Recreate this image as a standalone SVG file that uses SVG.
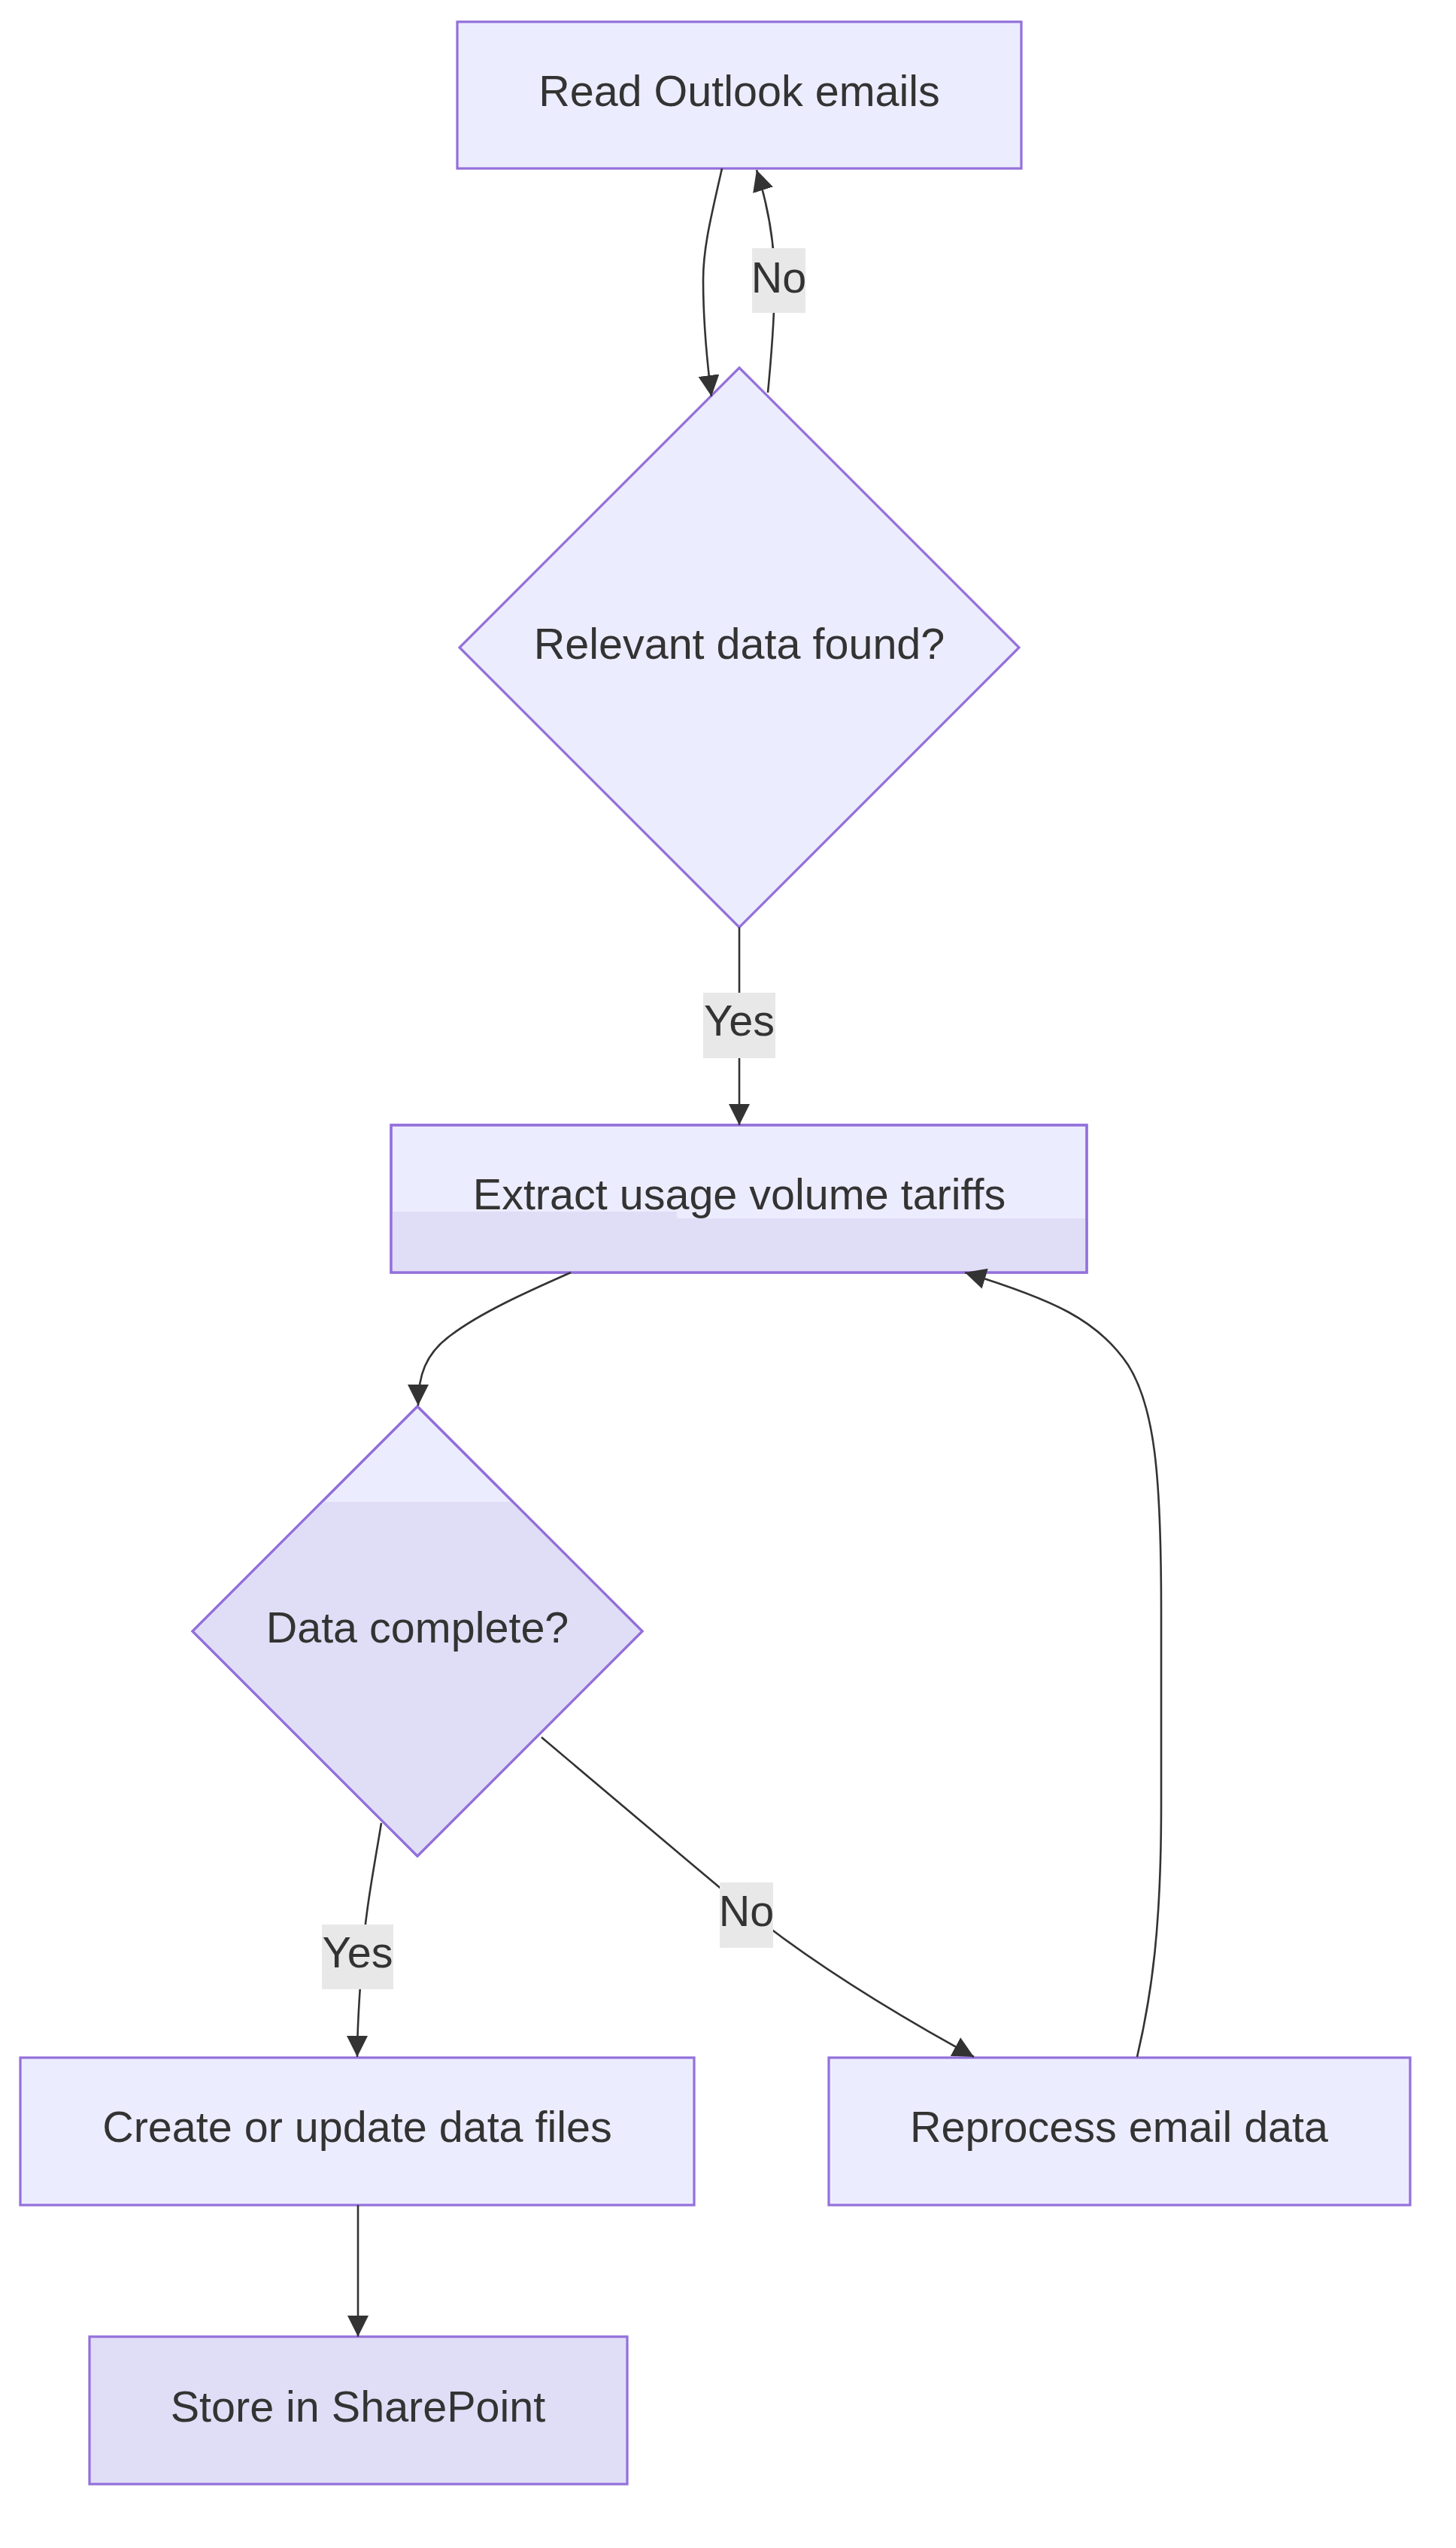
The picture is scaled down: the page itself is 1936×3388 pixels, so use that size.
<svg xmlns="http://www.w3.org/2000/svg" width="1936" height="3388" viewBox="0 0 1936 3388">
<style>
.node{fill:#ECECFF;stroke:#9370DB;stroke-width:3.2}
.outline{fill:none;stroke:#9370DB;stroke-width:3.2}
.dark{fill:#E0DEF6;stroke:none}
.t{font-family:"Liberation Sans",Arial,sans-serif;font-size:57.5px;fill:#333333;text-anchor:middle}
.edge{fill:none;stroke:#333333;stroke-width:2.6}
.lbl{fill:#E8E8E8}
</style>
<defs>
<marker id="arrow" viewBox="0 0 10 10" refX="10" refY="5" markerUnits="userSpaceOnUse" markerWidth="28" markerHeight="28" orient="auto">
<path d="M0,0 L10,5 L0,10 z" fill="#333333"/>
</marker>
</defs>
<rect width="1936" height="3388" fill="#FFFFFF"/>
<g id="nodes">
<g id="readOutlook">
<rect class="node" x="608" y="29" width="750" height="195"/>
<text class="t" x="983" y="141">Read Outlook emails</text>
</g>
<g id="relevantData">
<polygon class="node" points="983,489 1355,861 983,1233 611,861"/>
<text class="t" x="983" y="876">Relevant data found?</text>
</g>
<g id="extractTariffs">
<rect class="node" x="520" y="1496" width="925" height="196"/>
<polygon class="dark" points="521.6,1611 900,1611 900,1620 1443.4,1620 1443.4,1690.4 521.6,1690.4"/>
<rect class="outline" x="520" y="1496" width="925" height="196"/>
<text class="t" x="983" y="1608">Extract usage volume tariffs</text>
</g>
<g id="dataComplete">
<polygon class="node" points="555,1870 854,2169 555,2468 256,2169"/>
<polygon class="dark" points="428,1997 682,1997 854,2169 555,2468 256,2169"/>
<polygon class="outline" points="555,1870 854,2169 555,2468 256,2169"/>
<text class="t" x="555" y="2184">Data complete?</text>
</g>
<g id="createFiles">
<rect class="node" x="27" y="2736" width="896" height="196"/>
<text class="t" x="475" y="2848">Create or update data files</text>
</g>
<g id="reprocess">
<rect class="node" x="1102" y="2736" width="773" height="196"/>
<text class="t" x="1488" y="2848">Reprocess email data</text>
</g>
<g id="storeSharePoint">
<rect class="node" x="119" y="3107" width="715" height="196" style="fill:#E0DEF6"/>
<text class="t" x="476" y="3220">Store in SharePoint</text>
</g>
</g>
<g id="connectors">
<path class="edge" d="M960,224 C945,290 935,330 935,372 C935,430 940,480 946,527" marker-end="url(#arrow)"/>
<path class="edge" d="M1021,522 C1026,470 1030,420 1030,373 C1030,320 1020,270 1006,226" marker-end="url(#arrow)"/>
<path class="edge" d="M983,1233 L983,1496" marker-end="url(#arrow)"/>
<path class="edge" d="M759,1692 C700,1718 640,1745 600,1775 C565,1800 556,1830 556,1869" marker-end="url(#arrow)"/>
<path class="edge" d="M507,2424 C498,2480 486,2540 482,2600 C478,2650 475,2690 475,2735" marker-end="url(#arrow)"/>
<path class="edge" d="M720,2310 C800,2378 900,2462 993,2540 C1080,2610 1180,2672 1295,2735" marker-end="url(#arrow)"/>
<path class="edge" d="M1512,2735 C1532,2650 1544,2560 1544,2400 L1544,2140 C1544,1960 1535,1870 1500,1815 C1460,1755 1400,1728 1283,1692" marker-end="url(#arrow)"/>
<path class="edge" d="M476,2932 L476,3107" marker-end="url(#arrow)"/>
</g>
<g id="edgeLabels">
<g id="label-no-1">
<rect class="lbl" x="1000" y="330" width="71" height="86"/>
<text class="t" x="1035.5" y="389">No</text>
</g>
<g id="label-yes-1">
<rect class="lbl" x="935" y="1320" width="96" height="87"/>
<text class="t" x="983" y="1377">Yes</text>
</g>
<g id="label-yes-2">
<rect class="lbl" x="428" y="2559" width="95" height="86"/>
<text class="t" x="475.5" y="2616">Yes</text>
</g>
<g id="label-no-2">
<rect class="lbl" x="957" y="2503" width="71" height="87"/>
<text class="t" x="992.5" y="2561">No</text>
</g>
</g>
</svg>
